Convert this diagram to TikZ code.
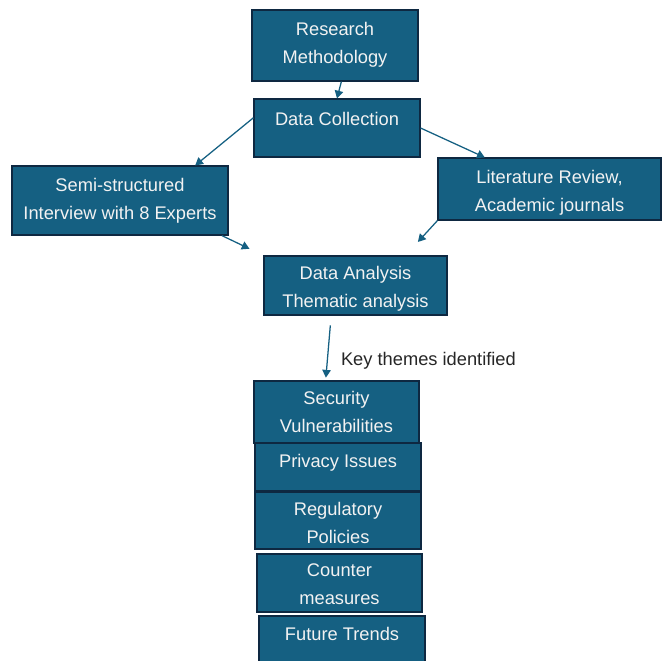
\documentclass[tikz,border=0pt]{standalone}
\usepackage{fontspec}
\setmainfont{Liberation Sans}
\usetikzlibrary{arrows.meta}
\definecolor{boxblue}{HTML}{156082}
\definecolor{boxedge}{HTML}{0E2841}
\definecolor{boxtext}{HTML}{F2F2F2}
\definecolor{labelgray}{HTML}{262626}
\newdimen\pxu \pxu=0.025cm
% move the text up (+) or down (-) inside its box
\newcommand{\lift}[2]{\raisebox{#1\pxu}[\height][\depth]{\begin{tabular}{@{}c@{}}#2\end{tabular}}}

\begin{document}
\begin{tikzpicture}[
  x=0.025cm, y=-0.025cm,
  >={Triangle[length=5.5pt,width=6pt]},
  box/.style={rectangle, draw=boxedge, fill=boxblue, line width=0.8pt,
    text=boxtext, align=center, inner sep=0pt,
    font=\fontsize{13}{19.9}\selectfont},
  size/.style 2 args={minimum width={#1*\pxu}, minimum height={#2*\pxu}},
  arr/.style={->, draw=boxblue, line width=0.9pt},
  lbl/.style={font=\fontsize{13}{16}\selectfont, text=labelgray}
]
\path[use as bounding box, clip] (0,0) rectangle (662,660);

% ---- Top of the flow ----
\node[box, size={166}{71}] (rm) at (335,45.5) {\lift{2}{Research\\Methodology}};
\node[box, size={166}{58}] (dc) at (337,128) {\lift{8}{Data Collection}};

% ---- Two sources ----
\node[box, size={216}{69}] (semi) at (120,200.5) {Semi-structured\\Interview with 8 Experts};
\node[box, size={223}{62}] (lit) at (549.5,189) {\lift{-3}{Literature Review,\\Academic journals}};

% ---- Analysis ----
\node[box, size={183}{59}] (da) at (355.5,285.5) {\lift{-2}{Data Analysis\\Thematic analysis}};

% ---- Key themes stack ----
\node[box, size={165}{62}] (sec) at (336.5,412) {\lift{-1}{Security\\Vulnerabilities}};
\node[box, size={166}{48}] (priv) at (338,467) {\lift{5}{Privacy Issues}};
\node[box, size={166}{57}] (reg) at (338,520.5) {\lift{-3}{Regulatory\\Policies}};
\node[box, size={165}{58}] (cm) at (339.5,583) {\lift{-2}{Counter\\measures}};
\node[box, size={166}{58}] (ft) at (342,645) {\lift{10}{Future Trends}};

% ---- Arrows ----
\draw[arr] (rm.-80) -- (dc.north);
\draw[arr] (dc.173) -- (semi.25);
\draw[arr] (dc.east) -- (lit.154);
\draw[arr, shorten >=11pt] (semi.-19) -- (da.north west);
\draw[arr, shorten >=13pt] (lit.south west) -- (da.31);
\draw[arr, shorten <=7pt, shorten >=2pt] (da.231) -- (sec.109)
  node[lbl, pos=0.7, right, xshift=6pt] {Key themes identified};

\end{tikzpicture}
\end{document}
